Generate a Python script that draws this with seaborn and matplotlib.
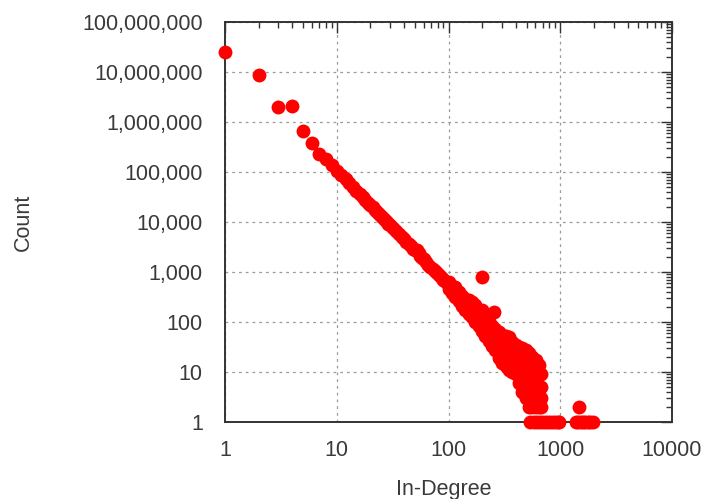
import matplotlib
matplotlib.use("Agg")
import matplotlib.pyplot as plt
import seaborn as sns
import pandas as pd
from matplotlib.ticker import LogLocator, FuncFormatter, NullFormatter

# ---- data ----
head_degree = [1, 2, 3, 4, 5, 6, 7]
head_count = [25000000, 8700000, 2000000, 2100000, 660000, 380000, 230000]

line_degree = [8, 9, 10, 11, 12, 13, 14, 15, 16, 17, 18, 19, 20, 21, 22, 23, 24, 25,
               26, 27, 28, 29, 30, 32, 34, 36, 38, 40, 42, 44, 46, 48, 50, 52, 54,
               56, 58, 60, 63, 66, 69, 72, 75, 78, 81, 84, 87, 90, 93, 96]
line_count = [180000, 136000, 107000, 86000, 71000, 59000, 50000, 42000, 36500, 32000,
              28000, 24500, 22000, 19500, 17600, 16000, 14400, 13200, 12000, 11000,
              10100, 9300, 8650, 7500, 6500, 5700, 5000, 4500, 4000, 3600, 3250, 2950,
              2700, 2700, 2450, 2100, 1900, 1780, 1600, 1400, 1250, 1150, 1060, 980,
              900, 820, 760, 700, 650, 600]

tail_degree = [100, 100, 107, 107, 115, 115, 123, 123, 132, 132, 141, 141,
               151, 151, 151, 162, 162, 162, 174, 174, 174, 186, 186, 186,
               200, 200, 200, 214, 214, 214, 229, 229, 229, 245, 245, 245,
               263, 263, 263, 282, 282, 282, 282, 302, 302, 302, 302,
               324, 324, 324, 324, 347, 347, 347, 347, 372, 372, 372, 372,
               398, 398, 398, 398, 427, 427, 427, 427,
               457, 457, 457, 457, 457, 490, 490, 490, 490, 490,
               525, 525, 525, 525, 525, 525, 562, 562, 562, 562, 562,
               603, 603, 603, 603, 603, 646, 646, 646, 646, 646,
               676, 676, 676, 676]
tail_count = [630, 460, 525, 380, 500, 320, 400, 265, 325, 210, 290, 175,
              270, 200, 145, 250, 175, 125, 215, 150, 100, 165, 120, 85,
              130, 95, 66, 120, 80, 52, 105, 66, 42, 83, 52, 33,
              72, 44, 27, 63, 40, 26, 19, 56, 34, 22, 15,
              52, 32, 20, 13, 49, 30, 18, 11, 40, 24, 15, 10,
              34, 21, 13, 9, 32, 19, 11, 6,
              30, 18, 11, 7, 4, 28, 17, 10, 6, 3,
              24, 14, 8, 5, 3, 2, 20, 12, 7, 4, 2,
              17, 10, 6, 4, 2, 14, 9, 5, 3, 2,
              9, 5, 3, 2]

ones_degree = [540, 580, 620, 660, 700, 750, 800, 850, 900, 950, 980,
               1380, 1450, 1520, 1600, 1680, 1760, 1850, 1950]
ones_count = [1, 1, 1, 1, 1, 1, 1, 1, 1, 1, 1,
              1, 1, 1, 1, 1, 1, 1, 1]

outlier_degree = [200, 198, 256, 1480]
outlier_count = [800, 175, 160, 2]

x_ticks = [1, 10, 100, 1000, 10000]
y_ticks = [1, 10, 100, 1000, 10000, 100000, 1000000, 10000000, 100000000]

df = pd.DataFrame({
    "In-Degree": head_degree + line_degree + tail_degree + ones_degree + outlier_degree,
    "Count": head_count + line_count + tail_count + ones_count + outlier_count,
})

# ---- styling ----
sns.set_theme(style="white")
plt.rcParams["font.family"] = ["Liberation Sans", "DejaVu Sans"]
TXT = "#3a3a3a"

fig = plt.figure(figsize=(7.06, 4.99), dpi=100)
ax = fig.add_axes([225 / 706, 1 - 422 / 499, 447 / 706, 400 / 499])

ax.set_xscale("log")
ax.set_yscale("log")
ax.set_axisbelow(True)
ax.grid(True, which="major", linestyle=(0, (2.2, 3.2)), color="#9a9a9a", linewidth=0.9)

sns.scatterplot(data=df, x="In-Degree", y="Count", color="#ff0000", s=100,
                linewidth=0, clip_on=False, zorder=3, ax=ax, legend=False)

ax.xaxis.set_minor_locator(LogLocator(base=10, subs=range(2, 10), numticks=100))
ax.yaxis.set_minor_locator(LogLocator(base=10, subs=range(2, 10), numticks=100))
ax.set_xticks(x_ticks)
ax.set_yticks(y_ticks)
ax.xaxis.set_major_formatter(FuncFormatter(lambda v, p: f"{int(round(v))}"))
ax.yaxis.set_major_formatter(FuncFormatter(lambda v, p: f"{int(round(v)):,}"))
ax.xaxis.set_minor_formatter(NullFormatter())
ax.yaxis.set_minor_formatter(NullFormatter())
ax.set_xlim(1, 10000)
ax.set_ylim(1, 100000000)

ax.tick_params(which="both", direction="in", top=True, right=True,
               color="#333333", width=1.0, labelsize=15.5, labelcolor=TXT)
ax.tick_params(which="major", length=8)
ax.tick_params(which="minor", length=4.5)
ax.tick_params(axis="y", which="major", pad=16)
ax.tick_params(axis="x", which="major", pad=13)

for sp in ax.spines.values():
    sp.set_color("#333333")
    sp.set_linewidth(1.4)
    sp.set_visible(True)

ax.set_xlabel("In-Degree", fontsize=15.5, color=TXT)
ax.set_ylabel("Count", fontsize=15.5, color=TXT)
ax.xaxis.set_label_coords(0.49, -0.143)
ax.yaxis.set_label_coords(-0.428, 0.5)

fig.savefig("out.png", dpi=100)
